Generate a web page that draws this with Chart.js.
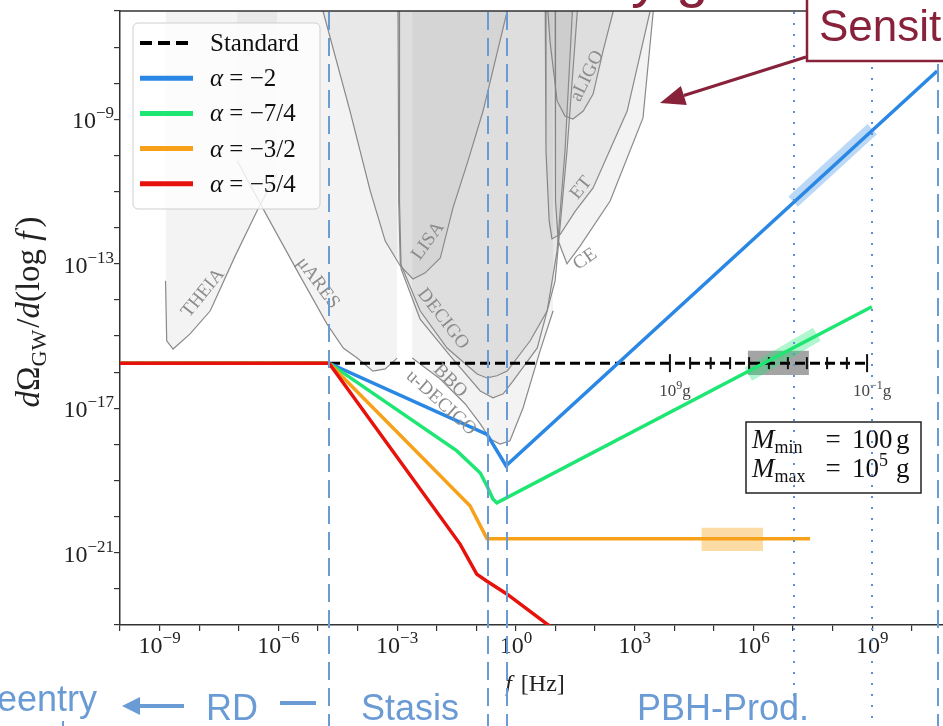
<!DOCTYPE html>
<html>
<head>
<meta charset="utf-8">
<script src="https://cdn.jsdelivr.net/npm/chart.js@4.4.0/dist/chart.umd.min.js"></script>
<style>
  html, body { margin: 0; padding: 0; overflow: hidden; background: #fff; }
  #wrap { width: 1010px; height: 726px; }
</style>
</head>
<body>
<div id="wrap"><canvas id="gw" width="1010" height="726"></canvas></div>
<script>
const SERIF = '"Liberation Serif", "Times New Roman", serif';
const SANS = '"Liberation Sans", Arial, sans-serif';

// every value is a log10: x = log10(f / Hz), y = log10(dOmega_GW / dlog f)
const standardF = [-10, 8.87];
const standardOmega = [-15.75, -15.75];

const alpha2F = [-10, -4.72, -0.73, -0.25, 10.64];
const alpha2Omega = [-15.75, -15.75, -17.72, -18.59, -7.66];

const alpha74F = [-10, -4.72, -1.49, -0.90, -0.73, -0.58, -0.48, 8.99];
const alpha74Omega = [-15.75, -15.75, -18.18, -18.79, -19.15, -19.51, -19.62, -14.19];

const alpha32F = [-10, -4.72, -1.16, -0.73, 7.43];
const alpha32Omega = [-15.75, -15.75, -19.70, -20.61, -20.61];

const alpha54F = [-10, -4.72, -1.41, -0.99, -0.74, -0.23, 0.78, 1.60];
const alpha54Omega = [-15.75, -15.75, -20.76, -21.59, -21.78, -22.14, -22.97, -23.60];

// shaded uncertainty marks on the curves
const blueBandF = [7.0, 9.0];
const blueBandOmega = [-11.28, -9.27];
const greenBandF = [5.87, 7.60];
const greenBandOmega = [-16.06, -14.95];
const grayBoxF = [5.86, 7.40];
const grayBoxOmega = [-16.08, -15.41];
const orangeBoxF = [4.69, 6.24];
const orangeBoxOmega = [-20.95, -20.31];

// PBH mass scale on the standard line, 10^9 g ... 10^-1 g
const massTickF = [3.89, 4.40, 4.92, 5.41, 5.89, 6.39, 6.87, 7.35, 7.86, 8.36, 8.87];
const massExps = [9, 8, 7, 6, 5, 4, 3, 2, 1, 0, -1];
const massLabelExps = [9, -1];

// detector sensitivity curves
const theiaF = [-8.85, -8.82, -8.66, -8.23, -7.72, -7.09, -6.54, -6.03];
const theiaOmega = [-13.47, -15.13, -15.36, -14.94, -14.30, -12.78, -11.54, -10.49];
const muaresF = [-7.04, -6.33, -5.45, -4.77, -4.36, -4.01, -3.61, -3.30, -3.00];
const muaresOmega = [-10.15, -11.59, -13.34, -14.67, -15.33, -15.61, -15.97, -15.91, -15.61];
const lisaF = [-4.94, -4.19, -3.68, -3.30, -2.92, -2.60, -2.29, -1.91, -1.59, -1.21, -0.83, -0.22, -0.15];
const lisaOmega = [-5.73, -8.77, -10.98, -12.37, -13.06, -13.42, -13.25, -12.84, -11.45, -10.15, -8.77, -6.00, -5.73];
const decigoF = [-2.98, -2.96, -2.92, -2.42, -1.74, -0.98, -0.73, -0.48, -0.22, 0.36, 0.79, 1.04, 1.24, 1.44];
const decigoOmega = [-5.73, -11.26, -12.98, -14.30, -15.33, -16.05, -16.16, -16.10, -15.97, -15.13, -14.30, -12.64, -9.88, -5.73];
const bboF = [-2.95, -2.94, -2.90, -2.42, -1.66, -0.90, -0.58, -0.32, -0.07, 0.54, 0.99, 1.29, 1.57];
const bboOmega = [-5.73, -11.26, -13.14, -14.53, -15.55, -16.52, -16.71, -16.60, -16.24, -15.33, -13.47, -9.88, -5.73];
const udecigoF = [-2.62, -1.91, -1.28, -0.90, -0.65, -0.40, -0.15, 0.18, 0.61, 0.94];
const udecigoOmega = [-15.61, -16.19, -16.88, -17.43, -17.85, -17.99, -17.90, -16.99, -15.41, -14.30];
const aligoF = [0.79, 0.86, 1.04, 1.24, 1.44, 1.70, 1.95, 2.20, 2.46, 2.53];
const aligoOmega = [-5.73, -6.83, -8.49, -8.91, -8.99, -8.77, -8.30, -7.11, -6.00, -5.73];
const etF = [0.74, 0.76, 0.84, 0.91, 1.12, 1.50, 1.95, 2.81, 3.39, 3.47];
const etOmega = [-5.73, -9.88, -11.81, -12.31, -12.18, -11.54, -10.90, -8.77, -6.00, -5.73];
const ceF = [0.99, 1.00, 1.07, 1.29, 1.62, 2.38, 3.21, 3.47, 3.54];
const ceOmega = [-5.73, -11.26, -12.37, -13.00, -12.51, -11.26, -8.96, -6.00, -5.73];

const detectorNames = ['THEIA', 'μARES', 'LISA', 'DECIGO', 'BBO', 'u-DECIGO', 'aLIGO', 'ET', 'CE'];
const detectorLabelF = [-7.90, -5.00, -2.22, -1.84, -1.66, -1.89, 1.80, 1.65, 1.75];
const detectorLabelOmega = [-13.81, -13.53, -12.37, -14.53, -16.24, -16.85, -7.80, -10.90, -12.87];
const detectorLabelAngle = [-51, 53, -54, 52, 45, 42, -64, -51, -35];

// era boundaries and tick labels
const eraLinesF = [-4.72, -0.70, -0.22, 10.66];
const dottedLinesF = [7.03, 9.0];
const xTickExps = [-9, -6, -3, 0, 3, 6, 9];
const yTickExps = [-9, -13, -17, -21];

const pts = (xs, ys) => xs.map((v, i) => ({ x: v, y: ys[i] }));
const rect = (xs, ys) => pts([xs[0], xs[1], xs[1], xs[0], xs[0]], [ys[0], ys[0], ys[1], ys[1], ys[0]]);

const detectors = [
  [theiaF, theiaOmega], [muaresF, muaresOmega], [lisaF, lisaOmega], [decigoF, decigoOmega],
  [bboF, bboOmega], [udecigoF, udecigoOmega], [aligoF, aligoOmega], [etF, etOmega], [ceF, ceOmega]
];

const datasets = detectors.map(([f, o], i) => ({
  label: detectorNames[i],
  data: pts(f, o),
  borderColor: '#8a8a8a',
  borderWidth: 1.2,
  backgroundColor: 'rgba(120,120,120,0.085)',
  fill: 'end',
  order: 20
}));

datasets.push(
  { label: 'orange box', data: rect(orangeBoxF, orangeBoxOmega), borderWidth: 0, borderColor: 'transparent',
    backgroundColor: 'rgba(249,165,27,0.40)', fill: 'shape', order: 11 },
  { label: 'gray box', data: rect(grayBoxF, grayBoxOmega), borderWidth: 0, borderColor: 'transparent',
    backgroundColor: 'rgba(90,90,90,0.55)', fill: 'shape', order: 11 },
  { label: 'blue band', data: pts(blueBandF, blueBandOmega), borderColor: 'rgba(42,136,228,0.32)',
    borderWidth: 14, borderCapStyle: 'butt', fill: false, order: 10 },
  { label: 'green band', data: pts(greenBandF, greenBandOmega), borderColor: 'rgba(29,230,114,0.35)',
    borderWidth: 15, borderCapStyle: 'butt', fill: false, order: 10 },
  { label: 'Standard', data: pts(standardF, standardOmega), borderColor: '#000', borderWidth: 3,
    borderDash: [10, 5], fill: false, order: 7, inLegend: true },
  { label: 'mass ticks', data: pts(massTickF, massTickF.map(() => standardOmega[0])), showLine: false,
    pointStyle: 'line', pointRotation: 90,
    pointRadius: massExps.map(e => massLabelExps.includes(e) ? 9 : 6),
    pointBorderColor: '#111', pointBorderWidth: 2, order: 6 },
  { label: 'α = −2', data: pts(alpha2F, alpha2Omega), borderColor: '#2a88e4', borderWidth: 3.5, fill: false, order: 5, inLegend: true },
  { label: 'α = −7/4', data: pts(alpha74F, alpha74Omega), borderColor: '#1de672', borderWidth: 3.5, fill: false, order: 4, inLegend: true },
  { label: 'α = −3/2', data: pts(alpha32F, alpha32Omega), borderColor: '#f7a11a', borderWidth: 3.5, fill: false, order: 3, inLegend: true },
  { label: 'α = −5/4', data: pts(alpha54F, alpha54Omega), borderColor: '#e8120c', borderWidth: 3.5, fill: false, order: 2, inLegend: true }
);

function richWidth(ctx, parts) {
  let w = 0;
  for (const p of parts) { ctx.font = p.font; w += ctx.measureText(p.t).width + (p.gap || 0); }
  return w;
}
function drawRich(ctx, parts, x, y, align) {
  const w = richWidth(ctx, parts);
  let cx = align === 'center' ? x - w / 2 : align === 'right' ? x - w : x;
  ctx.textAlign = 'left';
  ctx.textBaseline = 'alphabetic';
  for (const p of parts) {
    ctx.font = p.font;
    ctx.fillText(p.t, cx, y - (p.dy || 0));
    cx += ctx.measureText(p.t).width + (p.gap || 0);
  }
}
const expText = e => (e < 0 ? '−' + (-e) : String(e));
const tickParts = e => [
  { t: '10', font: `24px ${SERIF}` },
  { t: expText(e), font: `17px ${SERIF}`, dy: 10 }
];

const decor = {
  id: 'decor',
  afterDatasetsDraw(chart) {
    const { ctx, chartArea: a, scales: { x, y } } = chart;
    ctx.save();

    // frame (top, right)
    ctx.strokeStyle = '#333';
    ctx.lineWidth = 1.5;
    ctx.beginPath();
    ctx.moveTo(a.left, a.top); ctx.lineTo(a.right, a.top); ctx.lineTo(a.right, a.bottom);
    ctx.stroke();

    // detector names along their curves
    ctx.fillStyle = '#8c8c8c';
    ctx.font = `19px ${SERIF}`;
    ctx.textAlign = 'center';
    ctx.textBaseline = 'middle';
    detectorNames.forEach((name, i) => {
      ctx.save();
      ctx.translate(x.getPixelForValue(detectorLabelF[i]), y.getPixelForValue(detectorLabelOmega[i]));
      ctx.rotate(detectorLabelAngle[i] * Math.PI / 180);
      ctx.fillText(name, 0, 0);
      ctx.restore();
    });

    // tick labels
    ctx.fillStyle = '#222';
    xTickExps.forEach(e => drawRich(ctx, tickParts(e), x.getPixelForValue(e), 653, 'center'));
    yTickExps.forEach(e => drawRich(ctx, tickParts(e), 114, y.getPixelForValue(e) + 9, 'right'));

    // axis titles
    drawRich(ctx, [
      { t: 'f', font: `italic 24px ${SERIF}`, gap: 3 },
      { t: ' [Hz]', font: `24px ${SERIF}` }
    ], 535, 691, 'center');
    ctx.save();
    ctx.translate(39, 312);
    ctx.rotate(-Math.PI / 2);
    drawRich(ctx, [
      { t: 'd', font: `italic 33px ${SERIF}` },
      { t: 'Ω', font: `33px ${SERIF}` },
      { t: 'GW', font: `22px ${SERIF}`, dy: -7, gap: 2 },
      { t: '/', font: `33px ${SERIF}` },
      { t: 'd', font: `italic 33px ${SERIF}` },
      { t: '(log ', font: `33px ${SERIF}` },
      { t: 'f', font: `italic 33px ${SERIF}`, gap: 4 },
      { t: ')', font: `33px ${SERIF}` }
    ], 0, 0, 'center');
    ctx.restore();

    // mass labels on the standard line
    ctx.fillStyle = '#444';
    massLabelExps.forEach(e => {
      const i = massExps.indexOf(e);
      drawRich(ctx, [
        { t: '10', font: `17px ${SERIF}` },
        { t: expText(e), font: `12px ${SERIF}`, dy: 7 },
        { t: 'g', font: `17px ${SERIF}` }
      ], x.getPixelForValue(massTickF[i]) + 5, 396, 'center');
    });

    // mass range box
    ctx.fillStyle = '#fff';
    ctx.fillRect(746, 422, 175, 71);
    ctx.strokeStyle = '#222';
    ctx.lineWidth = 1.5;
    ctx.strokeRect(746, 422, 175, 71);
    ctx.fillStyle = '#111';
    const boxRow = (sub, base, num, sup) => {
      drawRich(ctx, [{ t: 'M', font: `italic 27px ${SERIF}` }, { t: sub, font: `18px ${SERIF}`, dy: -5 }], 752, base, 'left');
      drawRich(ctx, [{ t: '=', font: `27px ${SERIF}` }], 833, base, 'center');
      const parts = [{ t: num, font: `27px ${SERIF}` }];
      if (sup) parts.push({ t: sup, font: `18px ${SERIF}`, dy: 11 });
      drawRich(ctx, parts, 852, base, 'left');
      drawRich(ctx, [{ t: 'g', font: `27px ${SERIF}` }], 896, base, 'left');
    };
    boxRow('min', 448, '100', null);
    boxRow('max', 477, '10', '5');

    // legend
    const lx = 133, ly = 23, lw = 187, lh = 186;
    ctx.fillStyle = 'rgba(255,255,255,0.82)';
    ctx.strokeStyle = '#cfcfcf';
    ctx.lineWidth = 1;
    ctx.beginPath();
    ctx.roundRect(lx, ly, lw, lh, 5);
    ctx.fill();
    ctx.stroke();
    const entries = chart.data.datasets.filter(d => d.inLegend);
    entries.forEach((d, i) => {
      const ry = 43 + i * 35.2;
      ctx.strokeStyle = d.borderColor;
      ctx.lineWidth = d.borderDash ? 4 : 5;
      ctx.setLineDash(d.borderDash ? [12, 6] : []);
      ctx.beginPath();
      ctx.moveTo(140, ry); ctx.lineTo(193, ry);
      ctx.stroke();
      ctx.setLineDash([]);
      ctx.fillStyle = '#111';
      if (d.label.startsWith('α')) {
        drawRich(ctx, [
          { t: 'α', font: `italic 25px ${SERIF}` },
          { t: d.label.slice(1), font: `25px ${SERIF}` }
        ], 210, ry + 8, 'left');
      } else {
        drawRich(ctx, [{ t: d.label, font: `25px ${SERIF}` }], 210, ry + 8, 'left');
      }
    });
    ctx.restore();
  },
  afterDraw(chart) {
    const { ctx, scales: { x } } = chart;
    const blue = '#6a9bd5';
    const red = '#88213a';
    ctx.save();

    // slide title, only its descenders reach into view
    ctx.fillStyle = red;
    ctx.font = `58px ${SANS}`;
    ctx.textBaseline = 'alphabetic';
    ctx.textAlign = 'right';
    ctx.fillText('Stasis by', 660, -4);
    ctx.textAlign = 'left';
    ctx.fillText('gravitational waves', 676, -4);

    // era boundaries (dashed) and mass limits (dotted)
    ctx.strokeStyle = blue;
    ctx.lineWidth = 2;
    ctx.setLineDash([18, 8]);
    eraLinesF.forEach(v => {
      const px = Math.round(x.getPixelForValue(v));
      ctx.beginPath(); ctx.moveTo(px, 12); ctx.lineTo(px, 726); ctx.stroke();
    });
    ctx.beginPath(); ctx.moveTo(63, 721); ctx.lineTo(63, 740); ctx.stroke();
    ctx.strokeStyle = '#5b8fd6';
    ctx.setLineDash([2, 9]);
    dottedLinesF.forEach(v => {
      const px = Math.round(x.getPixelForValue(v));
      ctx.beginPath(); ctx.moveTo(px, 12); ctx.lineTo(px, 726); ctx.stroke();
    });
    ctx.setLineDash([]);

    // era names under the axis
    ctx.fillStyle = blue;
    ctx.font = `36px ${SANS}`;
    ctx.textAlign = 'right';
    ctx.fillText('Reentry', 97, 711);
    ctx.textAlign = 'left';
    ctx.fillText('RD', 206, 720);
    ctx.fillText('Stasis', 361, 720);
    ctx.fillText('PBH-Prod.', 637, 720);
    ctx.strokeStyle = blue;
    ctx.lineWidth = 4;
    ctx.beginPath(); ctx.moveTo(184, 706); ctx.lineTo(135, 706); ctx.stroke();
    ctx.beginPath(); ctx.moveTo(122, 706); ctx.lineTo(140, 697); ctx.lineTo(140, 715); ctx.closePath(); ctx.fill();
    ctx.beginPath(); ctx.moveTo(280, 703); ctx.lineTo(316, 703); ctx.stroke();

    // callout box and arrow
    ctx.fillStyle = '#fff';
    ctx.fillRect(807, -5, 220, 66);
    ctx.strokeStyle = red;
    ctx.lineWidth = 2.5;
    ctx.strokeRect(807, -5, 220, 66);
    ctx.fillStyle = red;
    ctx.font = `44px ${SANS}`;
    ctx.fillText('Sensitivity', 819, 41);
    const sx = 806, sy = 57, tx = 660, ty = 103;
    const ang = Math.atan2(ty - sy, tx - sx);
    const hl = 25, hw = 10;
    const bx = tx - hl * Math.cos(ang), by = ty - hl * Math.sin(ang);
    ctx.lineWidth = 3;
    ctx.beginPath(); ctx.moveTo(sx, sy); ctx.lineTo(bx, by); ctx.stroke();
    ctx.beginPath();
    ctx.moveTo(tx, ty);
    ctx.lineTo(bx + hw * Math.sin(ang), by - hw * Math.cos(ang));
    ctx.lineTo(bx - hw * Math.sin(ang), by + hw * Math.cos(ang));
    ctx.closePath();
    ctx.fill();
    ctx.restore();
  }
};

const fixedTicks = s => {
  s.ticks = [];
  for (let v = s.options.min; v <= s.options.max; v++) s.ticks.push({ value: v });
};

new Chart(document.getElementById('gw'), {
  type: 'line',
  data: { datasets },
  options: {
    responsive: false,
    animation: false,
    devicePixelRatio: 1,
    events: [],
    layout: { padding: { top: 10, right: 19, left: 0, bottom: 0 } },
    elements: { point: { radius: 0 }, line: { tension: 0 } },
    plugins: { legend: { display: false }, tooltip: { enabled: false } },
    scales: {
      x: {
        type: 'linear', min: -10, max: 12,
        afterBuildTicks: fixedTicks,
        afterFit: s => { s.height = 101; },
        ticks: { display: false, autoSkip: false },
        grid: { drawOnChartArea: false, drawTicks: true, tickLength: 6, color: '#333', lineWidth: 1.2 },
        border: { color: '#333', width: 1.5 }
      },
      y: {
        type: 'linear', min: -23, max: -6,
        afterBuildTicks: fixedTicks,
        afterFit: s => { s.width = 120; },
        ticks: { display: false, autoSkip: false },
        grid: { drawOnChartArea: false, drawTicks: true, tickLength: 6, color: '#333', lineWidth: 1.2 },
        border: { color: '#333', width: 1.5 }
      }
    }
  },
  plugins: [decor]
});
</script>
</body>
</html>
